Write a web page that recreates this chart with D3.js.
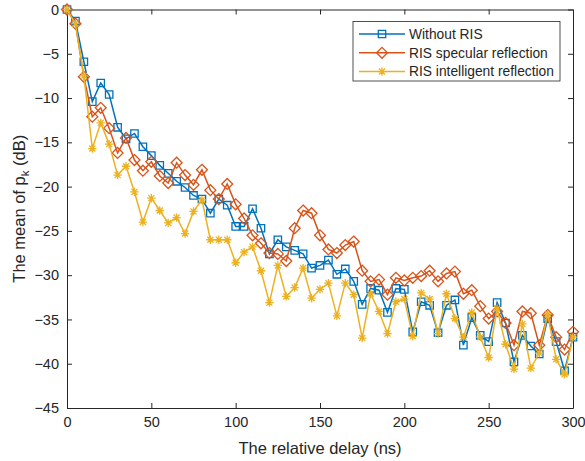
<!DOCTYPE html>
<html>
<head>
<meta charset="utf-8">
<script src="https://cdn.jsdelivr.net/npm/d3@7"></script>
<style>
  body { margin: 0; background: #fff; }
  svg text { font-family: "Liberation Sans", Arial, Helvetica, sans-serif; fill: #262626; }
</style>
</head>
<body>
<svg id="root" width="585" height="461"></svg>
<script>
// relative delay (ns), one sample every 5 ns
const delay = d3.range(0, 305, 5);

const withoutRIS = [0, -1.3, -5.9, -10.4, -8.3, -9.6, -13.3, -14.6, -14.0, -15.5,
  -16.5, -17.6, -18.5, -19.4, -20.1, -21.0, -21.4, -23.0, -21.4, -22.1,
  -24.5, -24.5, -22.5, -24.7, -27.6, -26.0, -26.8, -27.2, -27.6, -29.2,
  -28.9, -28.3, -29.9, -29.3, -30.7, -33.3, -31.5, -31.7, -34.2, -31.5,
  -31.6, -36.4, -33.0, -33.4, -36.5, -33.4, -32.8, -37.9, -34.8, -36.8,
  -37.5, -33.1, -35.4, -39.8, -36.8, -38.0, -38.9, -34.9, -37.5, -40.8, -37.0];

const specular = [0, -1.6, -7.6, -12.1, -11.1, -13.4, -16.2, -14.5, -17.0, -18.2,
  -17.2, -18.8, -19.6, -17.3, -18.7, -19.8, -18.1, -20.4, -21.4, -19.7,
  -22.0, -23.6, -25.5, -26.4, -27.5, -27.6, -28.4, -24.7, -22.7, -23.0,
  -25.5, -27.1, -27.5, -26.6, -26.2, -29.5, -30.7, -30.5, -32.2, -30.3,
  -30.6, -30.3, -30.1, -29.5, -30.7, -29.8, -29.6, -32.1, -31.7, -33.5,
  -34.9, -34.1, -35.4, -37.9, -34.1, -34.3, -37.9, -34.5, -37.0, -38.4, -36.4];

const intelligent = [0, -1.6, -7.5, -15.7, -12.8, -15.2, -18.7, -17.7, -20.6, -24.0,
  -21.3, -22.7, -24.1, -23.5, -25.3, -22.8, -21.5, -26.0, -26.0, -26.0,
  -28.6, -27.4, -26.8, -29.5, -33.1, -28.9, -32.4, -31.4, -29.2, -32.6,
  -31.6, -30.9, -34.6, -30.9, -32.2, -37.1, -32.1, -34.1, -36.6, -33.0,
  -32.7, -36.9, -32.0, -32.7, -36.6, -32.1, -34.9, -37.0, -34.2, -37.0,
  -39.3, -33.8, -37.8, -40.6, -35.5, -40.5, -38.8, -34.4, -39.5, -41.2, -37.0];

const seriesNames = ['Without RIS', 'RIS specular reflection', 'RIS intelligent reflection'];
const seriesColors = ['#0072BD', '#D95319', '#EDB120'];
const seriesMarkers = ['square', 'diamond', 'asterisk'];
const xTicks = [0, 50, 100, 150, 200, 250, 300];
const yTicks = [0, -5, -10, -15, -20, -25, -30, -35, -40, -45];

const series = [withoutRIS, specular, intelligent].map((vals, i) => ({
  name: seriesNames[i], color: seriesColors[i], marker: seriesMarkers[i],
  points: vals.map((v, j) => ({ x: delay[j], y: v }))
}));

const root = d3.select('#root');
const mLeft = 67, mTop = 9.5, mRight = 573, mBottom = 408;
const axisColor = '#262626';

const x = d3.scaleLinear().domain([0, 300]).range([mLeft, mRight]);
const y = d3.scaleLinear().domain([-45, 0]).range([mBottom, mTop]);

// axes (ticks inward, box on)
const tl = 5;
root.append('g').attr('transform', `translate(0,${mBottom})`)
  .call(d3.axisBottom(x).tickValues(xTicks).tickSizeInner(-tl).tickSizeOuter(0).tickPadding(9));
root.append('g').attr('transform', `translate(0,${mTop})`)
  .call(d3.axisTop(x).tickValues(xTicks).tickSizeInner(-tl).tickSizeOuter(0).tickFormat(''));
root.append('g').attr('transform', `translate(${mLeft},0)`)
  .call(d3.axisLeft(y).tickValues(yTicks).tickSizeInner(-tl).tickSizeOuter(0).tickPadding(8));
root.append('g').attr('transform', `translate(${mRight},0)`)
  .call(d3.axisRight(y).tickValues(yTicks).tickSizeInner(-tl).tickSizeOuter(0).tickFormat(''));

root.selectAll('.domain').attr('stroke', axisColor).attr('stroke-width', 1);
root.selectAll('.tick line').attr('stroke', axisColor).attr('stroke-width', 1);
root.selectAll('.tick text').attr('font-size', 14.5).attr('fill', axisColor)
  .style('font-family', '"Liberation Sans", Arial, sans-serif');

// markers
const markerPath = (type, s) => {
  if (type === 'square') return `M${-s},${-s}H${s}V${s}H${-s}Z`;
  if (type === 'diamond') { const h = s * 1.3; return `M0,${-h}L${h},0L0,${h}L${-h},0Z`; }
  const d = s * 0.72;
  return `M${-s},0H${s}M0,${-s}V${s}M${-d},${-d}L${d},${d}M${-d},${d}L${d},${-d}`;
};

const line = d3.line().x(d => x(d.x)).y(d => y(d.y));
const plot = root.append('g');

series.forEach(s => {
  const g = plot.append('g');
  g.append('path').datum(s.points)
    .attr('d', line).attr('fill', 'none')
    .attr('stroke', s.color).attr('stroke-width', 1.5);
  g.selectAll('path.m').data(s.points).enter().append('path')
    .attr('class', 'm')
    .attr('transform', d => `translate(${x(d.x)},${y(d.y)})`)
    .attr('d', markerPath(s.marker, s.marker === 'square' ? 3.7 : 4.2))
    .attr('fill', 'none').attr('stroke', s.color).attr('stroke-width', 1.3);
});

// axis labels
root.append('text')
  .attr('x', (mLeft + mRight) / 2).attr('y', 454)
  .attr('text-anchor', 'middle').attr('font-size', 16.5)
  .text('The relative delay (ns)');

const yl = root.append('text')
  .attr('transform', `translate(25,${(mTop + mBottom) / 2}) rotate(-90)`)
  .attr('text-anchor', 'middle').attr('font-size', 16.5);
yl.append('tspan').text('The mean of p');
yl.append('tspan').attr('font-size', 11.5).attr('dy', 4).text('k');
yl.append('tspan').attr('dy', -4).text(' (dB)');

// legend
const lg = root.append('g');
lg.append('rect').attr('x', 353).attr('y', 21.5).attr('width', 207).attr('height', 59.5)
  .attr('fill', '#fff').attr('stroke', axisColor).attr('stroke-width', 0.8);
series.forEach((s, i) => {
  const cy = 34 + i * 18.8;
  lg.append('line').attr('x1', 359).attr('x2', 405).attr('y1', cy).attr('y2', cy)
    .attr('stroke', s.color).attr('stroke-width', 1.5);
  lg.append('path').attr('transform', `translate(382,${cy})`)
    .attr('d', markerPath(s.marker, s.marker === 'square' ? 3.7 : 4.2))
    .attr('fill', 'none').attr('stroke', s.color).attr('stroke-width', 1.3);
  lg.append('text').attr('x', 409).attr('y', cy + 4.8)
    .attr('font-size', 13.8).text(s.name);
});
</script>
</body>
</html>
